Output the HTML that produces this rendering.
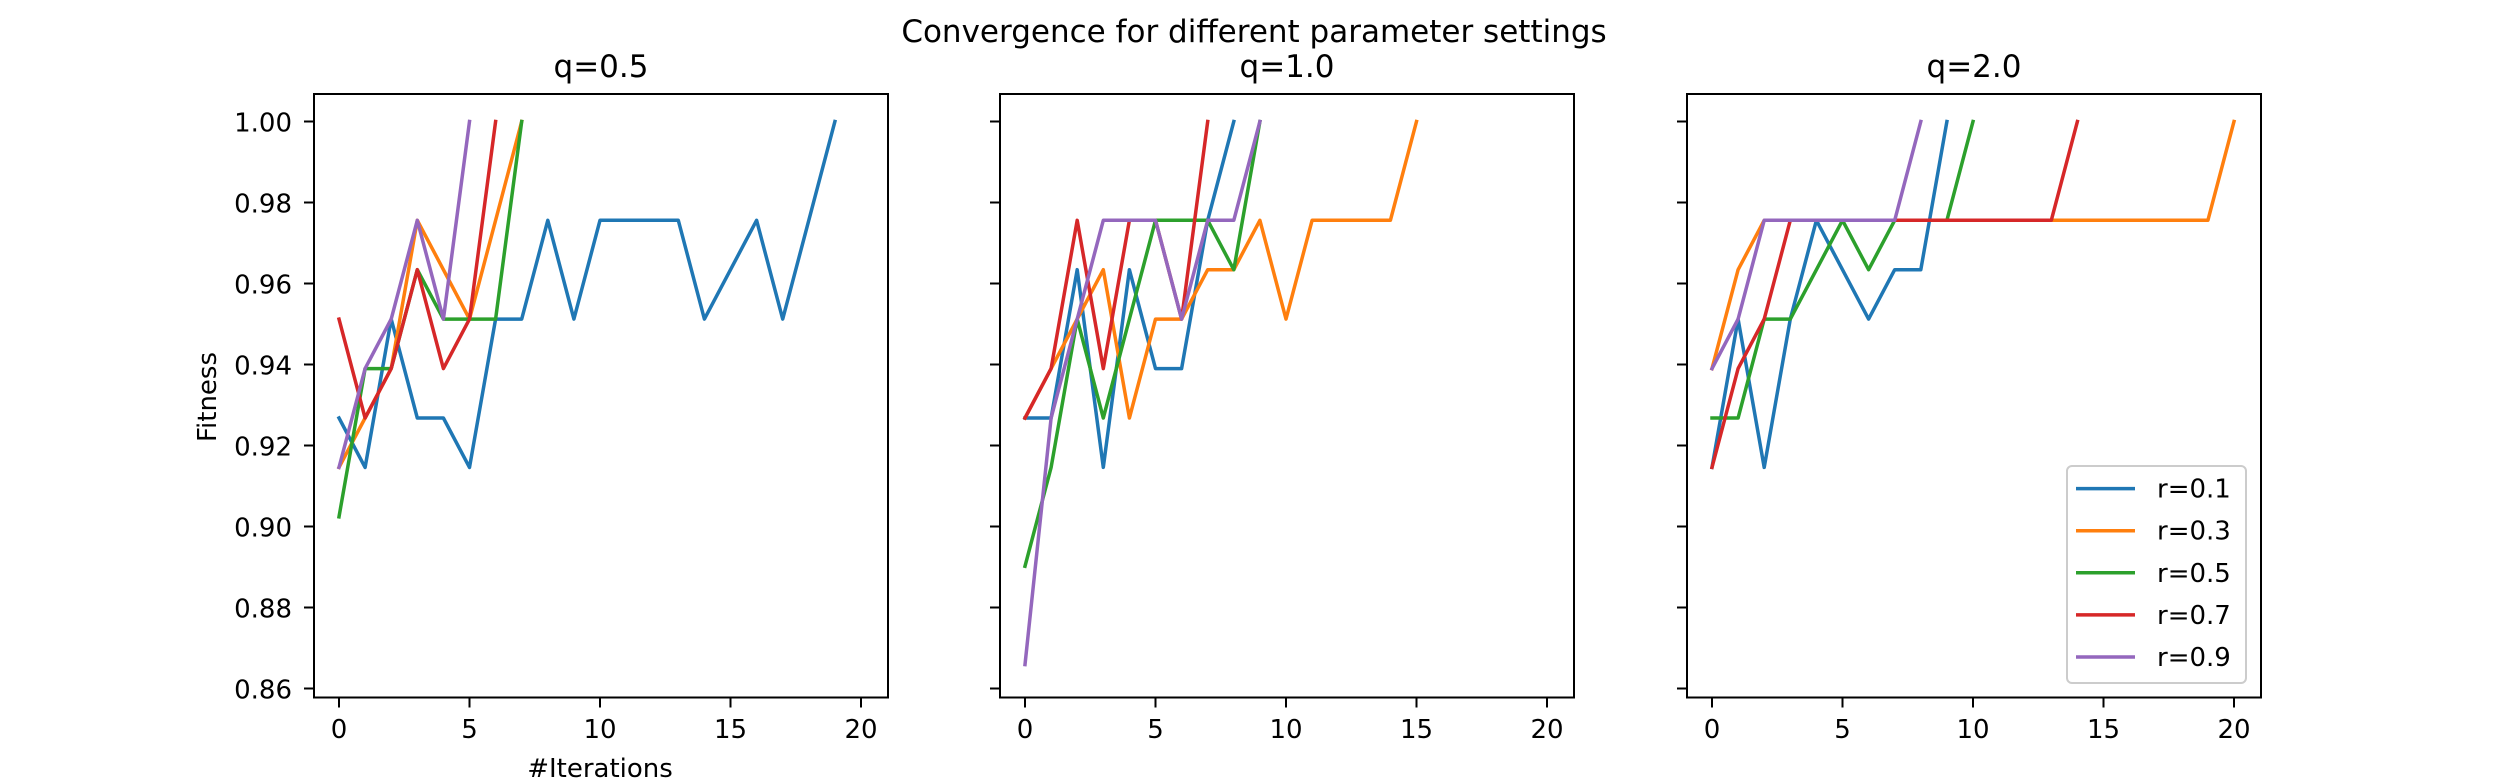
<!DOCTYPE html>
<html><head><meta charset="utf-8">
<style>
html,body{margin:0;padding:0;background:#fff;}
svg{display:block;font-family:"DejaVu Sans","Liberation Sans",sans-serif;}
</style></head>
<body>
<svg id="chart" width="2508" height="784" viewBox="0 0 2508 784" xmlns="http://www.w3.org/2000/svg">
<rect width="2508" height="784" fill="#fff"/>
<text x="1254" y="42" font-size="31" text-anchor="middle" fill="#000">Convergence for different parameter settings</text>
</svg>
<script>
const panelTitles = ["q=0.5", "q=1.0", "q=2.0"];
const seriesNames = ["r=0.1", "r=0.3", "r=0.5", "r=0.7", "r=0.9"];
const colors = ["#1f77b4", "#ff7f0e", "#2ca02c", "#d62728", "#9467bd"];
const xTicks = [0, 5, 10, 15, 20];
const yTicks = [0.86, 0.88, 0.90, 0.92, 0.94, 0.96, 0.98, 1.00];
const yTickLabels = ["0.86", "0.88", "0.90", "0.92", "0.94", "0.96", "0.98", "1.00"];

const q05_r01 = [0.9268,0.9146,0.9512,0.9268,0.9268,0.9146,0.9512,0.9512,0.9756,0.9512,0.9756,0.9756,0.9756,0.9756,0.9512,0.9634,0.9756,0.9512,0.9756,1.0];
const q05_r03 = [0.9146,0.9268,0.9390,0.9756,0.9634,0.9512,0.9756,1.0];
const q05_r05 = [0.9024,0.9390,0.9390,0.9634,0.9512,0.9512,0.9512,1.0];
const q05_r07 = [0.9512,0.9268,0.9390,0.9634,0.9390,0.9512,1.0];
const q05_r09 = [0.9146,0.9390,0.9512,0.9756,0.9512,1.0];

const q10_r01 = [0.9268,0.9268,0.9634,0.9146,0.9634,0.9390,0.9390,0.9756,1.0];
const q10_r03 = [0.9268,0.9390,0.9512,0.9634,0.9268,0.9512,0.9512,0.9634,0.9634,0.9756,0.9512,0.9756,0.9756,0.9756,0.9756,1.0];
const q10_r05 = [0.8902,0.9146,0.9512,0.9268,0.9512,0.9756,0.9756,0.9756,0.9634,1.0];
const q10_r07 = [0.9268,0.9390,0.9756,0.9390,0.9756,0.9756,0.9512,1.0];
const q10_r09 = [0.8659,0.9268,0.9512,0.9756,0.9756,0.9756,0.9512,0.9756,0.9756,1.0];

const q20_r01 = [0.9146,0.9512,0.9146,0.9512,0.9756,0.9634,0.9512,0.9634,0.9634,1.0];
const q20_r03 = [0.9390,0.9634,0.9756,0.9756,0.9756,0.9756,0.9756,0.9756,0.9756,0.9756,0.9756,0.9756,0.9756,0.9756,0.9756,0.9756,0.9756,0.9756,0.9756,0.9756,1.0];
const q20_r05 = [0.9268,0.9268,0.9512,0.9512,0.9634,0.9756,0.9634,0.9756,0.9756,0.9756,1.0];
const q20_r07 = [0.9146,0.9390,0.9512,0.9756,0.9756,0.9756,0.9756,0.9756,0.9756,0.9756,0.9756,0.9756,0.9756,0.9756,1.0];
const q20_r09 = [0.9390,0.9512,0.9756,0.9756,0.9756,0.9756,0.9756,0.9756,1.0];

const panelData = [
  [q05_r01, q05_r03, q05_r05, q05_r07, q05_r09],
  [q10_r01, q10_r03, q10_r05, q10_r07, q10_r09],
  [q20_r01, q20_r03, q20_r05, q20_r07, q20_r09]
];

const NS = "http://www.w3.org/2000/svg";
const svg = document.getElementById("chart");
const panelLefts = [314, 1000, 1687];
const PW = 574, PT = 94, PB = 697.5;
function xScale(left, v) { return left + 25 + v * (522 / 20); }
function yScale(v) { return 121.5 + (1 - v) / 0.02 * 81; }
function mk(tag, attrs, parent) {
  const e = document.createElementNS(NS, tag);
  for (const k in attrs) e.setAttribute(k, attrs[k]);
  (parent || svg).appendChild(e);
  return e;
}

panelData.forEach((series, p) => {
  const L = panelLefts[p];
  const g = mk("g", {});
  
  
  const t = mk("text", {x: L + PW / 2, y: 77, "font-size": 31, "text-anchor": "middle", fill: "#000"}, g);
  t.textContent = panelTitles[p];
  
  
  // series
  series.forEach((vals, s) => {
    const pts = vals.map((v, i) => xScale(L, i).toFixed(1) + "," + yScale(v).toFixed(1)).join(" ");
    const pl = mk("polyline", {points: pts, fill: "none", stroke: colors[s], "stroke-width": 3.5, "stroke-linejoin": "round", "stroke-linecap": "square"}, g);
    
    
  });
  // frame
  const fr = mk("rect", {x: L, y: PT, width: PW, height: PB - PT, fill: "none", stroke: "#000", "stroke-width": 2}, g);
  
  
  // x ticks
  xTicks.forEach(v => {
    const x = xScale(L, v);
    mk("line", {x1: x, x2: x, y1: PB, y2: PB + 10, stroke: "#000", "stroke-width": 2}, g);
    const tl = mk("text", {x: x, y: 738, "font-size": 26, "text-anchor": "middle", fill: "#000"}, g);
    tl.textContent = String(v);
    
    
  });
  // y ticks
  yTicks.forEach((v, i) => {
    const y = yScale(v);
    mk("line", {x1: L - 10, x2: L, y1: y, y2: y, stroke: "#000", "stroke-width": 2}, g);
    if (p === 0) {
      const yl = mk("text", {x: L - 22, y: y + 10, "font-size": 26, "text-anchor": "end", fill: "#000"}, g);
      yl.textContent = yTickLabels[i];
      
      
    }
  });
});

const xl = mk("text", {x: 600, y: 777, "font-size": 26, "text-anchor": "middle", fill: "#000"});
xl.textContent = "#Iterations";


const yl = mk("text", {x: 0, y: 0, "font-size": 26, "text-anchor": "middle", fill: "#000", transform: "translate(216,397) rotate(-90)"});
yl.textContent = "Fitness";



// legend
const lg = mk("g", {});


mk("rect", {x: 2067, y: 466, width: 179, height: 217, rx: 5, fill: "#fff", "fill-opacity": 0.8, stroke: "#ccc", "stroke-width": 2}, lg);
seriesNames.forEach((n, i) => {
  const y = 488.6 + i * 42.1;
  const ln = mk("line", {x1: 2076, x2: 2135, y1: y, y2: y, stroke: colors[i], "stroke-width": 3.5}, lg);
  
  
  const tx = mk("text", {x: 2157, y: y + 9, "font-size": 26, fill: "#000"}, lg);
  tx.textContent = n;
  
  
});
</script>
</body></html>
